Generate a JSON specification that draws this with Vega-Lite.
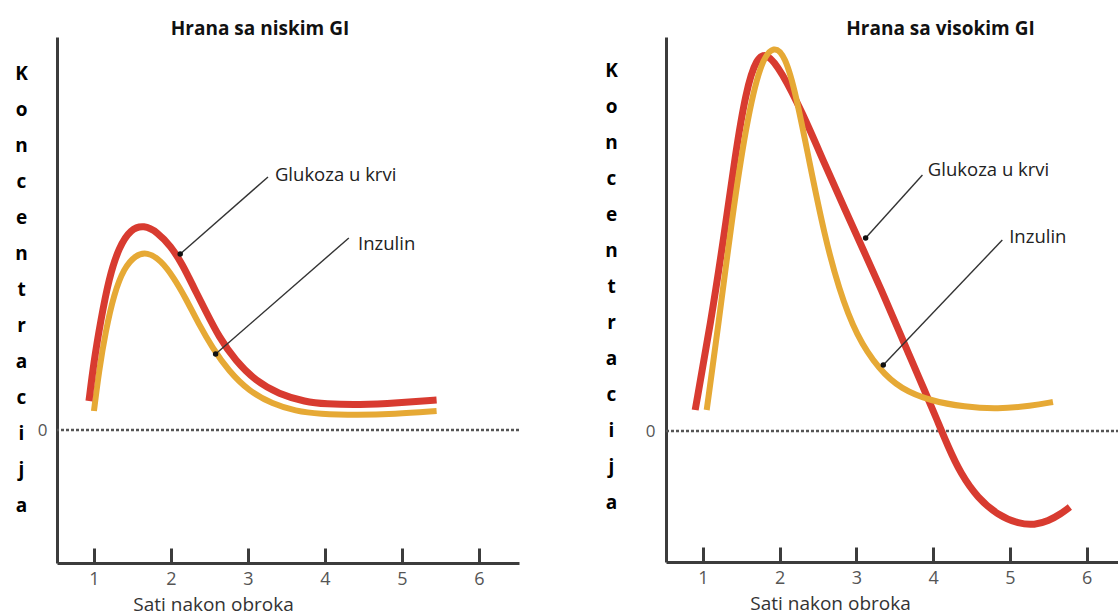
{
  "$schema": "https://vega.github.io/schema/vega-lite/v6.json",
  "padding": {"left": 14, "top": 20, "right": 0, "bottom": 0},
  "background": "white",
  "spacing": 83,
  "config": {
    "view": {"stroke": null},
    "font": "Open Sans",
    "axis": {
      "grid": false,
      "domainColor": "#3c3c3c",
      "domainWidth": 3,
      "tickColor": "#3c3c3c",
      "tickWidth": 3,
      "labelColor": "#555555",
      "labelFont": "Open Sans",
      "labelFontSize": 18,
      "titleFont": "Open Sans",
      "titleColor": "#333333"
    },
    "title": {"font": "Open Sans", "fontSize": 19, "fontWeight": "bold", "color": "#111111"}
  },
  "datasets": {
    "low": [
      {"serija": "Inzulin", "sati": 1.0, "k": 0.19},
      {"serija": "Inzulin", "sati": 1.065, "k": 0.59},
      {"serija": "Inzulin", "sati": 1.152, "k": 0.99},
      {"serija": "Inzulin", "sati": 1.26, "k": 1.36},
      {"serija": "Inzulin", "sati": 1.39, "k": 1.62},
      {"serija": "Inzulin", "sati": 1.54, "k": 1.75},
      {"serija": "Inzulin", "sati": 1.69, "k": 1.78},
      {"serija": "Inzulin", "sati": 1.866, "k": 1.70},
      {"serija": "Inzulin", "sati": 2.04, "k": 1.52},
      {"serija": "Inzulin", "sati": 2.19, "k": 1.32},
      {"serija": "Inzulin", "sati": 2.36, "k": 1.06},
      {"serija": "Inzulin", "sati": 2.54, "k": 0.82},
      {"serija": "Inzulin", "sati": 2.75, "k": 0.59},
      {"serija": "Inzulin", "sati": 3.01, "k": 0.39},
      {"serija": "Inzulin", "sati": 3.32, "k": 0.26},
      {"serija": "Inzulin", "sati": 3.62, "k": 0.19},
      {"serija": "Inzulin", "sati": 3.92, "k": 0.16},
      {"serija": "Inzulin", "sati": 4.43, "k": 0.15},
      {"serija": "Inzulin", "sati": 4.90, "k": 0.16},
      {"serija": "Inzulin", "sati": 5.45, "k": 0.19},
      {"serija": "Glukoza", "sati": 0.935, "k": 0.29},
      {"serija": "Glukoza", "sati": 1.0, "k": 0.69},
      {"serija": "Glukoza", "sati": 1.087, "k": 1.09},
      {"serija": "Glukoza", "sati": 1.195, "k": 1.52},
      {"serija": "Glukoza", "sati": 1.325, "k": 1.83},
      {"serija": "Glukoza", "sati": 1.477, "k": 2.01},
      {"serija": "Glukoza", "sati": 1.649, "k": 2.05},
      {"serija": "Glukoza", "sati": 1.822, "k": 1.98},
      {"serija": "Glukoza", "sati": 1.996, "k": 1.84},
      {"serija": "Glukoza", "sati": 2.147, "k": 1.66},
      {"serija": "Glukoza", "sati": 2.299, "k": 1.42},
      {"serija": "Glukoza", "sati": 2.451, "k": 1.19},
      {"serija": "Glukoza", "sati": 2.623, "k": 0.93},
      {"serija": "Glukoza", "sati": 2.84, "k": 0.69},
      {"serija": "Glukoza", "sati": 3.10, "k": 0.49},
      {"serija": "Glukoza", "sati": 3.40, "k": 0.36},
      {"serija": "Glukoza", "sati": 3.75, "k": 0.28},
      {"serija": "Glukoza", "sati": 4.0, "k": 0.26},
      {"serija": "Glukoza", "sati": 4.45, "k": 0.25},
      {"serija": "Glukoza", "sati": 4.95, "k": 0.27},
      {"serija": "Glukoza", "sati": 5.45, "k": 0.30}
    ],
    "high": [
      {"serija": "Inzulin", "sati": 1.05, "k": 0.21},
      {"serija": "Inzulin", "sati": 1.19, "k": 0.99},
      {"serija": "Inzulin", "sati": 1.38, "k": 2.13},
      {"serija": "Inzulin", "sati": 1.56, "k": 3.05},
      {"serija": "Inzulin", "sati": 1.75, "k": 3.70},
      {"serija": "Inzulin", "sati": 1.93, "k": 3.86},
      {"serija": "Inzulin", "sati": 2.07, "k": 3.75},
      {"serija": "Inzulin", "sati": 2.21, "k": 3.38},
      {"serija": "Inzulin", "sati": 2.39, "k": 2.68},
      {"serija": "Inzulin", "sati": 2.58, "k": 1.97},
      {"serija": "Inzulin", "sati": 2.77, "k": 1.42},
      {"serija": "Inzulin", "sati": 3.00, "k": 0.95},
      {"serija": "Inzulin", "sati": 3.30, "k": 0.61},
      {"serija": "Inzulin", "sati": 3.58, "k": 0.42},
      {"serija": "Inzulin", "sati": 3.97, "k": 0.30},
      {"serija": "Inzulin", "sati": 4.41, "k": 0.24},
      {"serija": "Inzulin", "sati": 4.84, "k": 0.22},
      {"serija": "Inzulin", "sati": 5.28, "k": 0.25},
      {"serija": "Inzulin", "sati": 5.56, "k": 0.29},
      {"serija": "Glukoza", "sati": 0.90, "k": 0.21},
      {"serija": "Glukoza", "sati": 1.10, "k": 1.07},
      {"serija": "Glukoza", "sati": 1.28, "k": 1.97},
      {"serija": "Glukoza", "sati": 1.42, "k": 2.75},
      {"serija": "Glukoza", "sati": 1.56, "k": 3.40},
      {"serija": "Glukoza", "sati": 1.70, "k": 3.74},
      {"serija": "Glukoza", "sati": 1.84, "k": 3.78},
      {"serija": "Glukoza", "sati": 2.02, "k": 3.60},
      {"serija": "Glukoza", "sati": 2.30, "k": 3.18},
      {"serija": "Glukoza", "sati": 2.58, "k": 2.68},
      {"serija": "Glukoza", "sati": 2.86, "k": 2.20},
      {"serija": "Glukoza", "sati": 3.09, "k": 1.81},
      {"serija": "Glukoza", "sati": 3.32, "k": 1.42},
      {"serija": "Glukoza", "sati": 3.56, "k": 0.99},
      {"serija": "Glukoza", "sati": 3.71, "k": 0.72},
      {"serija": "Glukoza", "sati": 3.885, "k": 0.41},
      {"serija": "Glukoza", "sati": 4.04, "k": 0.13},
      {"serija": "Glukoza", "sati": 4.19, "k": -0.15},
      {"serija": "Glukoza", "sati": 4.36, "k": -0.43},
      {"serija": "Glukoza", "sati": 4.58, "k": -0.67},
      {"serija": "Glukoza", "sati": 4.84, "k": -0.84},
      {"serija": "Glukoza", "sati": 5.12, "k": -0.93},
      {"serija": "Glukoza", "sati": 5.32, "k": -0.94},
      {"serija": "Glukoza", "sati": 5.50, "k": -0.90},
      {"serija": "Glukoza", "sati": 5.66, "k": -0.83},
      {"serija": "Glukoza", "sati": 5.78, "k": -0.76}
    ],
    "ann_low": [
      {"id": "g", "label": "Glukoza u krvi", "x1": 3.26, "y1": 2.53, "x2": 2.12, "y2": 1.76, "tx": 3.35, "ty": 2.55},
      {"id": "i", "label": "Inzulin", "x1": 4.31, "y1": 1.92, "x2": 2.58, "y2": 0.76, "tx": 4.43, "ty": 1.86}
    ],
    "ann_high": [
      {"id": "g", "label": "Glukoza u krvi", "x1": 3.86, "y1": 2.56, "x2": 3.12, "y2": 1.93, "tx": 3.93, "ty": 2.61},
      {"id": "i", "label": "Inzulin", "x1": 4.90, "y1": 1.91, "x2": 3.35, "y2": 0.66, "tx": 4.99, "ty": 1.94}
    ],
    "zero": [{"k": 0}]
  },
  "hconcat": [
    {
      "width": 462,
      "height": 526,
      "title": {"text": "Hrana sa niskim GI", "anchor": "middle", "dx": -28, "offset": -2},
      "layer": [
        {
          "data": {"name": "zero"},
          "mark": {"type": "rule", "strokeDash": [3, 2], "strokeWidth": 2.5, "color": "#555555"},
          "encoding": {
            "y": {
              "field": "k", "type": "quantitative",
              "scale": {"domain": [-1.33, 3.93], "nice": false, "zero": false},
              "axis": {
                "values": [0], "format": "d", "ticks": false, "labelPadding": 10, "labelFontSize": 17,
                "title": ["K", "o", "n", "c", "e", "n", "t", "r", "a", "c", "i", "j", "a"],
                "titleAngle": 0, "titleAlign": "center", "titleBaseline": "alphabetic",
                "titleX": -36, "titleY": 42, "titleLineHeight": 36,
                "titleFontSize": 19, "titleFontWeight": "bold", "titleColor": "#000000"
              }
            }
          }
        },
        {
          "data": {"name": "low"},
          "transform": [{"filter": "datum.serija === 'Inzulin'"}],
          "mark": {"type": "line", "interpolate": "basis", "strokeWidth": 6, "color": "#e6a935", "strokeCap": "butt"},
          "encoding": {
            "x": {
              "field": "sati", "type": "quantitative",
              "scale": {"domain": [0.52, 6.52], "nice": false, "zero": false},
              "axis": {
                "values": [1, 2, 3, 4, 5, 6], "format": "d", "tickSize": -15, "labelPadding": 22,
                "title": "Sati nakon obroka", "titleFontSize": 19, "titleFontWeight": "normal",
                "titleX": 156, "titleY": 41, "titleAlign": "center", "titleBaseline": "middle"
              }
            },
            "y": {"field": "k", "type": "quantitative"}
          }
        },
        {
          "data": {"name": "low"},
          "transform": [{"filter": "datum.serija === 'Glukoza'"}],
          "mark": {"type": "line", "interpolate": "basis", "strokeWidth": 7, "color": "#d83b30", "strokeCap": "butt"},
          "encoding": {
            "x": {"field": "sati", "type": "quantitative"},
            "y": {"field": "k", "type": "quantitative"}
          }
        },
        {
          "data": {"name": "ann_low"},
          "mark": {"type": "rule", "strokeWidth": 1.4, "color": "#333333"},
          "encoding": {
            "x": {"field": "x1", "type": "quantitative"},
            "y": {"field": "y1", "type": "quantitative"},
            "x2": {"field": "x2"},
            "y2": {"field": "y2"}
          }
        },
        {
          "data": {"name": "ann_low"},
          "mark": {"type": "point", "filled": true, "size": 30, "color": "#111111", "opacity": 1},
          "encoding": {
            "x": {"field": "x2", "type": "quantitative"},
            "y": {"field": "y2", "type": "quantitative"}
          }
        },
        {
          "data": {"name": "ann_low"},
          "mark": {"type": "text", "align": "left", "baseline": "middle", "fontSize": 18.5, "color": "#222222", "font": "Open Sans"},
          "encoding": {
            "x": {"field": "tx", "type": "quantitative"},
            "y": {"field": "ty", "type": "quantitative"},
            "text": {"field": "label"}
          }
        }
      ]
    },
    {
      "width": 453,
      "height": 525,
      "title": {"text": "Hrana sa visokim GI", "anchor": "middle", "dx": 48, "offset": -2},
      "layer": [
        {
          "data": {"name": "zero"},
          "mark": {"type": "rule", "strokeDash": [3, 2], "strokeWidth": 2.5, "color": "#555555"},
          "encoding": {
            "y": {
              "field": "k", "type": "quantitative",
              "scale": {"domain": [-1.31, 3.94], "nice": false, "zero": false},
              "axis": {
                "values": [0], "format": "d", "ticks": false, "labelPadding": 11, "labelFontSize": 17,
                "title": ["K", "o", "n", "c", "e", "n", "t", "r", "a", "c", "i", "j", "a"],
                "titleAngle": 0, "titleAlign": "center", "titleBaseline": "alphabetic",
                "titleX": -55, "titleY": 39, "titleLineHeight": 36,
                "titleFontSize": 19, "titleFontWeight": "bold", "titleColor": "#000000"
              }
            }
          }
        },
        {
          "data": {"name": "high"},
          "transform": [{"filter": "datum.serija === 'Glukoza'"}],
          "mark": {"type": "line", "interpolate": "basis", "strokeWidth": 7, "color": "#d83b30", "strokeCap": "butt"},
          "encoding": {
            "x": {
              "field": "sati", "type": "quantitative",
              "scale": {"domain": [0.52, 6.42], "nice": false, "zero": false},
              "axis": {
                "values": [1, 2, 3, 4, 5, 6], "format": "d", "tickSize": -15, "labelPadding": 22,
                "title": "Sati nakon obroka", "titleFontSize": 19, "titleFontWeight": "normal",
                "titleX": 164, "titleY": 41, "titleAlign": "center", "titleBaseline": "middle"
              }
            },
            "y": {"field": "k", "type": "quantitative"}
          }
        },
        {
          "data": {"name": "high"},
          "transform": [{"filter": "datum.serija === 'Inzulin'"}],
          "mark": {"type": "line", "interpolate": "basis", "strokeWidth": 6, "color": "#e6a935", "strokeCap": "butt"},
          "encoding": {
            "x": {"field": "sati", "type": "quantitative"},
            "y": {"field": "k", "type": "quantitative"}
          }
        },
        {
          "data": {"name": "ann_high"},
          "mark": {"type": "rule", "strokeWidth": 1.4, "color": "#333333"},
          "encoding": {
            "x": {"field": "x1", "type": "quantitative"},
            "y": {"field": "y1", "type": "quantitative"},
            "x2": {"field": "x2"},
            "y2": {"field": "y2"}
          }
        },
        {
          "data": {"name": "ann_high"},
          "mark": {"type": "point", "filled": true, "size": 30, "color": "#111111", "opacity": 1},
          "encoding": {
            "x": {"field": "x2", "type": "quantitative"},
            "y": {"field": "y2", "type": "quantitative"}
          }
        },
        {
          "data": {"name": "ann_high"},
          "mark": {"type": "text", "align": "left", "baseline": "middle", "fontSize": 18.5, "color": "#222222", "font": "Open Sans"},
          "encoding": {
            "x": {"field": "tx", "type": "quantitative"},
            "y": {"field": "ty", "type": "quantitative"},
            "text": {"field": "label"}
          }
        }
      ]
    }
  ]
}
